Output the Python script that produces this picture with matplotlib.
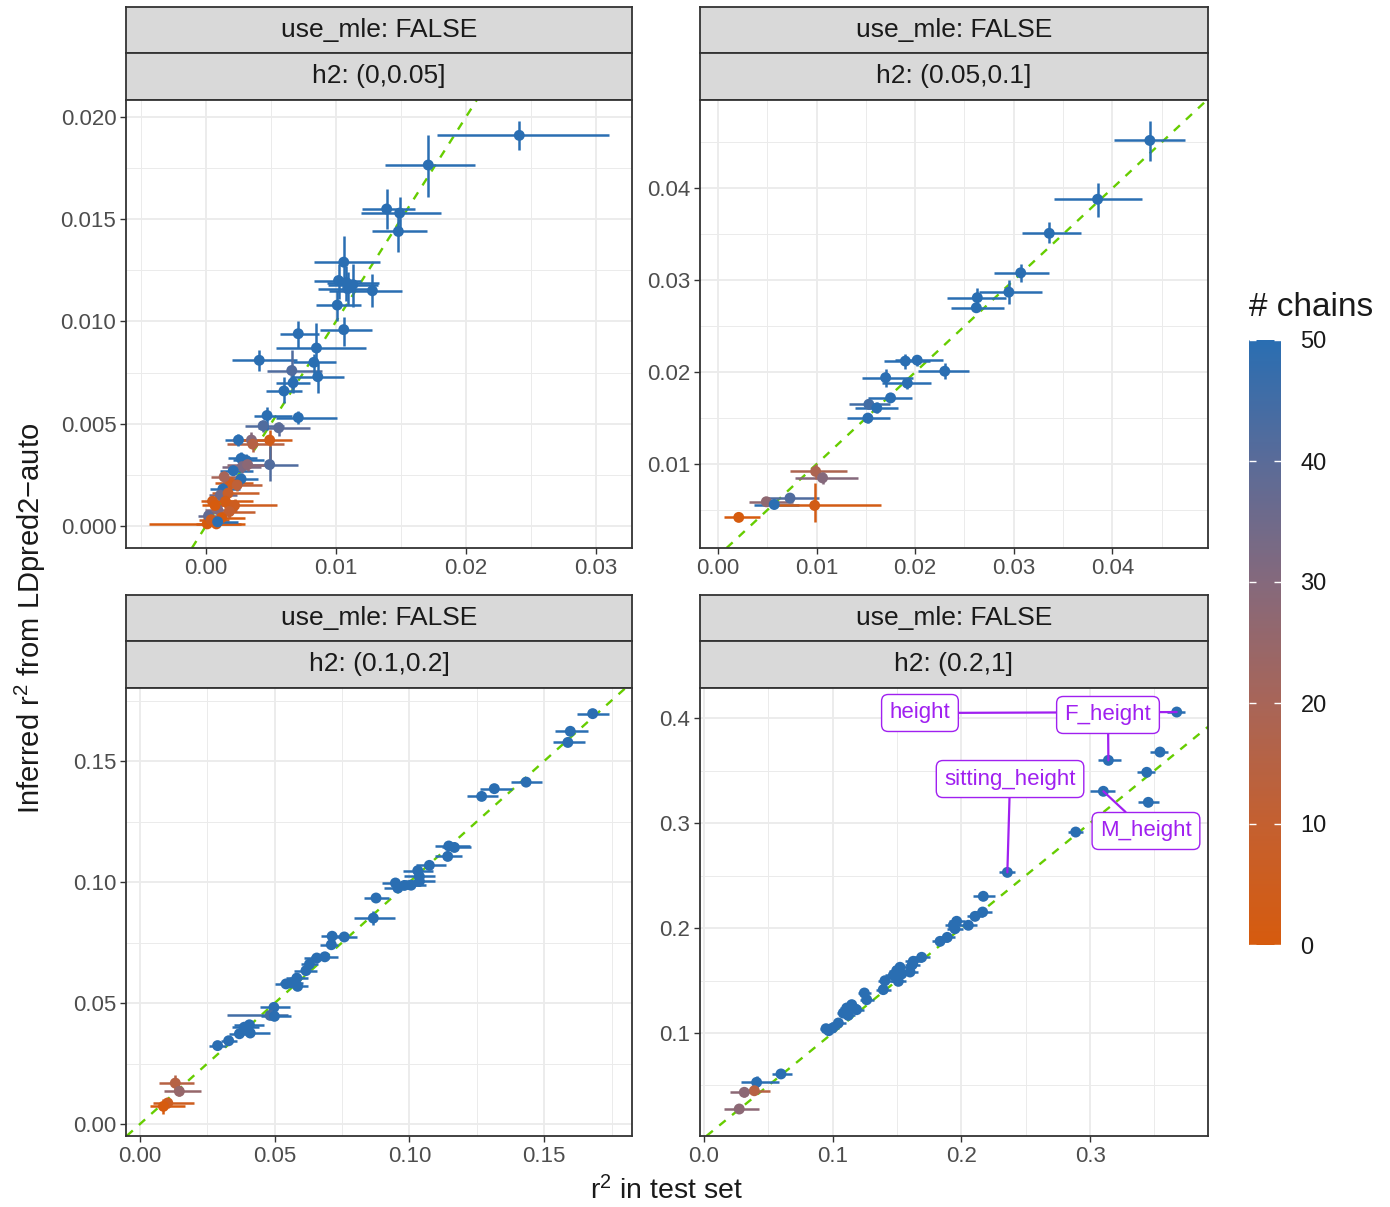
import matplotlib
matplotlib.use("Agg")
import matplotlib.pyplot as plt
import numpy as np
from matplotlib.colors import LinearSegmentedColormap, Normalize
from matplotlib.cm import ScalarMappable
from matplotlib.ticker import MultipleLocator

plt.rcParams["font.family"] = ["Liberation Sans", "DejaVu Sans"]
plt.rcParams["mathtext.fontset"] = "custom"
plt.rcParams["mathtext.rm"] = "Liberation Sans"
plt.rcParams["mathtext.it"] = "Liberation Sans:italic"

# ---- h2: (0,0.05] ----
r2_test_1 = [0.0241, 0.0171, 0.0139, 0.0149, 0.0148, 0.0106, 0.0102, 0.0108, 0.0113, 0.0109,
             0.0128, 0.0101, 0.0106, 0.0071, 0.0085, 0.0041, 0.0083, 0.0066, 0.0086, 0.0067,
             0.0060, 0.0047, 0.0071, 0.0044, 0.0056, 0.0025, 0.0035, 0.0036, 0.0049, 0.0049,
             0.0027, 0.0031, 0.0028, 0.0032, 0.0021, 0.0027, 0.0019, 0.0013, 0.0024, 0.0011,
             0.0017, 0.0005, 0.0015, 0.0022, 0.0009, 0.0018, 0.0001, 0.0008, 0.0002, 0.0004,
             0.0012, 0.0014, 0.0009, 0.0007]
r2_test_lo_1 = [0.0178, 0.0138, 0.0120, 0.0119, 0.0128, 0.0083, 0.0083, 0.0093, 0.0094, 0.0086,
                0.0095, 0.0085, 0.0088, 0.0057, 0.0054, 0.0020, 0.0067, 0.0047, 0.0065, 0.0054,
                0.0046, 0.0037, 0.0054, 0.0030, 0.0040, 0.0015, 0.0020, 0.0016, 0.0021, 0.0033,
                0.0017, 0.0021, 0.0012, 0.0016, 0.0011, 0.0016, 0.0007, 0.0003, 0.0012, 0.0002,
                0.0005, -0.0004, 0.0002, 0.0008, -0.0001, 0.0004, -0.0044, -0.0008, -0.0006, -0.0005,
                -0.0002, 0.0004, 0.0000, -0.0003]
r2_test_hi_1 = [0.0310, 0.0207, 0.0161, 0.0181, 0.0170, 0.0134, 0.0119, 0.0133, 0.0132, 0.0126,
                0.0151, 0.0119, 0.0128, 0.0087, 0.0123, 0.0070, 0.0100, 0.0089, 0.0106, 0.0080,
                0.0074, 0.0066, 0.0101, 0.0060, 0.0080, 0.0038, 0.0052, 0.0060, 0.0066, 0.0071,
                0.0039, 0.0045, 0.0042, 0.0046, 0.0036, 0.0040, 0.0036, 0.0026, 0.0043, 0.0024,
                0.0041, 0.0020, 0.0036, 0.0055, 0.0024, 0.0038, 0.0030, 0.0027, 0.0016, 0.0018,
                0.0030, 0.0028, 0.0025, 0.0022]
r2_auto_1 = [0.0191, 0.01765, 0.0155, 0.0153, 0.0144, 0.0129, 0.0120, 0.0119, 0.0118, 0.0116,
             0.0115, 0.0108, 0.0096, 0.0094, 0.0087, 0.0081, 0.0080, 0.0076, 0.0073, 0.0070,
             0.0066, 0.0054, 0.0053, 0.0049, 0.0048, 0.0042, 0.0042, 0.0040, 0.0042, 0.0030,
             0.0033, 0.0032, 0.0029, 0.0030, 0.0027, 0.0023, 0.0021, 0.0018, 0.0020, 0.0015,
             0.0016, 0.0012, 0.0012, 0.0010, 0.0008, 0.0007, 0.0001, 0.0001, 0.0005, 0.0003,
             0.0004, 0.0024, 0.0002, 0.0010]
r2_auto_lo_1 = [0.0184, 0.0161, 0.0145, 0.0143, 0.0134, 0.0117, 0.0111, 0.0110, 0.0107, 0.0108,
                0.0107, 0.0100, 0.0088, 0.0087, 0.0078, 0.0076, 0.0075, 0.0067, 0.0065, 0.0065,
                0.0060, 0.0047, 0.0050, 0.0046, 0.0044, 0.0039, 0.0039, 0.0036, 0.0029, 0.0022,
                0.0030, 0.0029, 0.0026, 0.0027, 0.0025, 0.0020, 0.0018, 0.0016, 0.0017, 0.0013,
                0.0013, 0.0010, 0.0009, 0.0007, 0.0006, 0.0004, -0.0001, -0.0001, 0.0003, 0.0001,
                0.0002, 0.0021, 0.0000, 0.0008]
r2_auto_hi_1 = [0.0198, 0.0191, 0.0165, 0.0161, 0.0153, 0.0142, 0.0128, 0.0127, 0.0128, 0.0124,
                0.0123, 0.0115, 0.0102, 0.0100, 0.0099, 0.0086, 0.0084, 0.0086, 0.0080, 0.0076,
                0.0073, 0.0058, 0.0056, 0.0052, 0.0051, 0.0045, 0.0046, 0.0043, 0.0047, 0.0039,
                0.0036, 0.0035, 0.0032, 0.0033, 0.0030, 0.0026, 0.0024, 0.0021, 0.0023, 0.0018,
                0.0019, 0.0014, 0.0015, 0.0013, 0.0011, 0.0010, 0.0003, 0.0003, 0.0007, 0.0005,
                0.0006, 0.0027, 0.0004, 0.0012]
chains_1 = [50, 50, 50, 50, 50, 50, 50, 50, 50, 50,
            50, 50, 50, 50, 50, 50, 50, 42, 50, 50,
            50, 50, 50, 42, 40, 50, 30, 15, 3, 42,
            50, 50, 32, 28, 50, 50, 5, 50, 12, 35,
            8, 3, 2, 5, 30, 10, 0, 2, 38, 5,
            0, 20, 50, 0]

# ---- h2: (0.05,0.1] ----
r2_test_2 = [0.0438, 0.0385, 0.0336, 0.0307, 0.0295, 0.0263, 0.0262, 0.0190, 0.0202, 0.0230,
             0.0170, 0.0192, 0.0175, 0.0153, 0.0161, 0.0152, 0.0099, 0.0106, 0.0073, 0.0049,
             0.0057, 0.0098, 0.0021]
r2_test_lo_2 = [0.0402, 0.0341, 0.0308, 0.0280, 0.0265, 0.0232, 0.0236, 0.0168, 0.0180, 0.0203,
                0.0146, 0.0166, 0.0152, 0.0133, 0.0139, 0.0131, 0.0073, 0.0078, 0.0051, 0.0031,
                0.0036, 0.0060, 0.0006]
r2_test_hi_2 = [0.0474, 0.0430, 0.0368, 0.0336, 0.0329, 0.0292, 0.0290, 0.0215, 0.0228, 0.0255,
                0.0198, 0.0216, 0.0197, 0.0174, 0.0183, 0.0174, 0.0131, 0.0142, 0.0102, 0.0076,
                0.0082, 0.0165, 0.0043]
r2_auto_2 = [0.0452, 0.0388, 0.0351, 0.0308, 0.0287, 0.0281, 0.0270, 0.0212, 0.0213, 0.0201,
             0.0194, 0.0188, 0.0172, 0.0165, 0.0161, 0.0150, 0.0092, 0.0085, 0.0063, 0.0059,
             0.0056, 0.0055, 0.0042]
r2_auto_lo_2 = [0.0430, 0.0369, 0.0340, 0.0298, 0.0274, 0.0270, 0.0266, 0.0203, 0.0207, 0.0192,
                0.0184, 0.0182, 0.0167, 0.0160, 0.0155, 0.0145, 0.0084, 0.0078, 0.0060, 0.0055,
                0.0052, 0.0037, 0.0038]
r2_auto_hi_2 = [0.0473, 0.0406, 0.0363, 0.0318, 0.0300, 0.0292, 0.0274, 0.0220, 0.0219, 0.0210,
                0.0203, 0.0194, 0.0177, 0.0170, 0.0167, 0.0155, 0.0100, 0.0091, 0.0067, 0.0063,
                0.0060, 0.0079, 0.0045]
chains_2 = [50, 50, 50, 50, 50, 50, 50, 50, 50, 50,
            50, 50, 50, 45, 50, 50, 18, 30, 42, 27,
            50, 2, 0]

# ---- h2: (0.1,0.2] ----
r2_test_3 = [0.1680, 0.1597, 0.1588, 0.1433, 0.1315, 0.1268, 0.1146, 0.1167, 0.1142, 0.1074,
             0.1031, 0.1037, 0.1037, 0.0948, 0.0957, 0.0981, 0.1006, 0.0876, 0.0866, 0.0713,
             0.0758, 0.0710, 0.0686, 0.0656, 0.0629, 0.0616, 0.0582, 0.0542, 0.0562, 0.0585,
             0.0497, 0.0483, 0.0499, 0.0406, 0.0387, 0.0369, 0.0409, 0.0329, 0.0288, 0.0131,
             0.0146, 0.0103, 0.0087]
r2_test_lo_3 = [0.1621, 0.1540, 0.1531, 0.1377, 0.1262, 0.1215, 0.1093, 0.1120, 0.1093, 0.1025,
                0.0975, 0.0980, 0.0985, 0.0899, 0.0905, 0.0930, 0.0955, 0.0832, 0.0795, 0.0670,
                0.0712, 0.0667, 0.0636, 0.0610, 0.0598, 0.0573, 0.0540, 0.0501, 0.0520, 0.0545,
                0.0447, 0.0322, 0.0450, 0.0350, 0.0340, 0.0332, 0.0358, 0.0300, 0.0257, 0.0072,
                0.0090, 0.0050, 0.0037]
r2_test_hi_3 = [0.1742, 0.1662, 0.1652, 0.1491, 0.1381, 0.1327, 0.1223, 0.1230, 0.1194, 0.1134,
                0.1089, 0.1095, 0.1095, 0.1025, 0.1010, 0.1040, 0.1060, 0.0925, 0.0947, 0.0762,
                0.0805, 0.0736, 0.0736, 0.0700, 0.0660, 0.0657, 0.0625, 0.0585, 0.0605, 0.0625,
                0.0556, 0.0548, 0.0560, 0.0460, 0.0440, 0.0406, 0.0484, 0.0361, 0.0320, 0.0202,
                0.0227, 0.0202, 0.0168]
r2_auto_3 = [0.1696, 0.1623, 0.1577, 0.1413, 0.1386, 0.1354, 0.1149, 0.1143, 0.1106, 0.1069,
             0.1047, 0.1023, 0.1003, 0.0996, 0.0975, 0.0986, 0.0987, 0.0934, 0.0851, 0.0776,
             0.0773, 0.0741, 0.0691, 0.0686, 0.0661, 0.0634, 0.0603, 0.0579, 0.0583, 0.0569,
             0.0482, 0.0449, 0.0445, 0.0410, 0.0400, 0.0373, 0.0376, 0.0344, 0.0324, 0.0169,
             0.0135, 0.0087, 0.0073]
r2_auto_se_3 = [0.0015] * 18 + [0.0030] + [0.0015] * 18 + [0.0010, 0.0010, 0.0035, 0.0020, 0.0020, 0.0030]
chains_3 = [50] * 31 + [45] + [50] * 7 + [15, 25, 5, 0]

# ---- h2: (0.2,1] ----
r2_test_4 = [0.3673, 0.3142, 0.3543, 0.3440, 0.3103, 0.3452, 0.2888, 0.2357, 0.2170, 0.2165,
             0.2106, 0.2054, 0.1963, 0.1937, 0.1950, 0.1890, 0.1834, 0.1691, 0.1626, 0.1618,
             0.1523, 0.1497, 0.1536, 0.1471, 0.1601, 0.1406, 0.1510, 0.1393, 0.1246, 0.1264,
             0.1148, 0.1109, 0.1186, 0.1121, 0.1082, 0.1044, 0.1000, 0.0948, 0.0969, 0.0598,
             0.0409, 0.0391, 0.0313, 0.0274]
r2_test_lo_4 = [0.3595, 0.3064, 0.3465, 0.3362, 0.2999, 0.3375, 0.2830, 0.2295, 0.2087, 0.2100,
                0.2040, 0.1990, 0.1900, 0.1875, 0.1890, 0.1830, 0.1775, 0.1630, 0.1565, 0.1560,
                0.1465, 0.1440, 0.1480, 0.1410, 0.1540, 0.1350, 0.1450, 0.1340, 0.1195, 0.1210,
                0.1095, 0.1055, 0.1130, 0.1065, 0.1030, 0.0990, 0.0950, 0.0900, 0.0920, 0.0525,
                0.0285, 0.0315, 0.0200, 0.0155]
r2_test_hi_4 = [0.3738, 0.3238, 0.3608, 0.3505, 0.3193, 0.3538, 0.2947, 0.2417, 0.2260, 0.2235,
                0.2170, 0.2120, 0.2030, 0.2000, 0.2015, 0.1950, 0.1895, 0.1755, 0.1690, 0.1680,
                0.1585, 0.1560, 0.1600, 0.1530, 0.1665, 0.1465, 0.1570, 0.1450, 0.1300, 0.1320,
                0.1200, 0.1165, 0.1240, 0.1175, 0.1135, 0.1100, 0.1050, 0.1000, 0.1020, 0.0685,
                0.0585, 0.0515, 0.0430, 0.0430]
r2_auto_4 = [0.4057, 0.3597, 0.3676, 0.3483, 0.3302, 0.3197, 0.2914, 0.2530, 0.2302, 0.2152,
             0.2111, 0.2026, 0.2064, 0.2026, 0.1993, 0.1911, 0.1873, 0.1721, 0.1683, 0.1650,
             0.1626, 0.1594, 0.1562, 0.1550, 0.1581, 0.1498, 0.1492, 0.1413, 0.1381, 0.1317,
             0.1270, 0.1238, 0.1222, 0.1168, 0.1190, 0.1095, 0.1048, 0.1041, 0.1022, 0.0610,
             0.0530, 0.0450, 0.0435, 0.0276]
r2_auto_se_4 = [0.002] * 40 + [0.006, 0.003, 0.004, 0.003]
chains_4 = [50] * 41 + [15, 28, 28]

# phenotypes named in the last panel, by row index
pheno_names = ["height", "F_height", "M_height", "sitting_height"]
pheno_rows = [0, 1, 4, 7]

strip_top = "use_mle: FALSE"
strip_h2 = ["h2: (0,0.05]", "h2: (0.05,0.1]", "h2: (0.1,0.2]", "h2: (0.2,1]"]
chain_ticks = [0, 10, 20, 30, 40, 50]

W, H = 1390, 1207
fig = plt.figure(figsize=(W / 100, H / 100), dpi=100)

def px_axes(x0, y0, x1, y1):
    return fig.add_axes([x0 / W, 1 - y1 / H, (x1 - x0) / W, (y1 - y0) / H])

cmap = LinearSegmentedColormap.from_list(
    "chains",
    [(0.0, "#D65B0E"), (0.2, "#C46030"), (0.4, "#A86558"),
     (0.6, "#85697C"), (0.8, "#5A6B98"), (1.0, "#2A6EB2")])
norm = Normalize(0, 50)

GRID = "#EBEBEB"
DARK = "#333333"
PURPLE = "#A020F0"


def strip(x0, y0, x1, y1, label):
    s = px_axes(x0, y0, x1, y1)
    s.set_facecolor("#D9D9D9")
    s.set_xticks([])
    s.set_yticks([])
    for sp in s.spines.values():
        sp.set_color(DARK)
        sp.set_linewidth(1.3)
    s.text(0.5, 0.5, label, ha="center", va="center", fontsize=19, color="#1A1A1A",
           transform=s.transAxes)


def panel(box, label, x, xlo, xhi, y, ylo, yhi, n, xlim, ylim, xmaj, ymaj):
    x0, y0, x1, y1 = box
    strip(x0, y0 - 93, x1, y0 - 47, strip_top)
    strip(x0, y0 - 47, x1, y0, label)
    ax = px_axes(x0, y0, x1, y1)
    ax.set_xlim(*xlim)
    ax.set_ylim(*ylim)
    ax.xaxis.set_major_locator(MultipleLocator(xmaj))
    ax.xaxis.set_minor_locator(MultipleLocator(xmaj / 2))
    ax.yaxis.set_major_locator(MultipleLocator(ymaj))
    ax.yaxis.set_minor_locator(MultipleLocator(ymaj / 2))
    ax.grid(True, which="major", color=GRID, lw=1.3, zorder=0)
    ax.grid(True, which="minor", color=GRID, lw=0.7, zorder=0)
    ax.set_axisbelow(True)
    ax.tick_params(which="major", length=4, width=1, color=DARK, labelsize=16,
                   labelcolor="#4D4D4D", pad=3)
    ax.tick_params(which="minor", length=0)
    for sp in ax.spines.values():
        sp.set_color(DARK)
        sp.set_linewidth(1.3)

    ax.axline((0, 0), slope=1, color="#66CD00", lw=1.7, ls=(0, (3.5, 3.5)), zorder=1)
    cols = cmap(norm(np.asarray(n)))
    ax.hlines(y, xlo, xhi, colors=cols, lw=1.8, zorder=2)
    ax.vlines(x, ylo, yhi, colors=cols, lw=1.8, zorder=2)
    ax.scatter(x, y, c=n, cmap=cmap, norm=norm, s=62, linewidths=0, zorder=3)
    return ax


fmt3 = lambda v, p: f"{v:.3f}"
ax1 = panel((126, 100, 632, 548), strip_h2[0],
            r2_test_1, r2_test_lo_1, r2_test_hi_1,
            r2_auto_1, r2_auto_lo_1, r2_auto_hi_1, chains_1,
            (-0.00615, 0.03277), (-0.00108, 0.02083), 0.01, 0.005)
ax1.xaxis.set_major_formatter(lambda v, p: f"{v:.2f}")
ax1.yaxis.set_major_formatter(fmt3)

ax2 = panel((700, 100, 1208, 548), strip_h2[1],
            r2_test_2, r2_test_lo_2, r2_test_hi_2,
            r2_auto_2, r2_auto_lo_2, r2_auto_hi_2, chains_2,
            (-0.00183, 0.0497), (0.00087, 0.0496), 0.01, 0.01)
ax2.xaxis.set_major_formatter(lambda v, p: f"{v:.2f}")
ax2.yaxis.set_major_formatter(lambda v, p: f"{v:.2f}")

y3 = np.array(r2_auto_3)
se3 = np.array(r2_auto_se_3)
ax3 = panel((126, 688, 632, 1136), strip_h2[2],
            r2_test_3, r2_test_lo_3, r2_test_hi_3,
            y3, y3 - se3, y3 + se3, chains_3,
            (-0.0052, 0.1826), (-0.00496, 0.1802), 0.05, 0.05)
ax3.xaxis.set_major_formatter(lambda v, p: f"{v:.2f}")
ax3.yaxis.set_major_formatter(lambda v, p: f"{v:.2f}")

y4 = np.array(r2_auto_4)
se4 = np.array(r2_auto_se_4)
ax4 = panel((700, 688, 1208, 1136), strip_h2[3],
            r2_test_4, r2_test_lo_4, r2_test_hi_4,
            y4, y4 - se4, y4 + se4, chains_4,
            (-0.0031, 0.3916), (0.0019, 0.4286), 0.1, 0.1)
ax4.xaxis.set_major_formatter(lambda v, p: f"{v:.1f}")
ax4.yaxis.set_major_formatter(lambda v, p: f"{v:.1f}")

# repelled label spots for the named phenotypes
label_spots = {"height": (0.1678, 0.4048), "F_height": (0.3139, 0.4029),
               "M_height": (0.3434, 0.2924), "sitting_height": (0.2378, 0.3419)}
for name, row in zip(pheno_names, pheno_rows):
    ax4.annotate(name, xy=(r2_test_4[row], r2_auto_4[row]), xytext=label_spots[name],
                 ha="center", va="center", fontsize=16, color=PURPLE, zorder=5,
                 bbox=dict(boxstyle="round,pad=0.36,rounding_size=0.3", fc="white",
                           ec=PURPLE, lw=1.0),
                 arrowprops=dict(arrowstyle="-", color=PURPLE, lw=1.6,
                                 shrinkA=0, shrinkB=0))

# axis titles
fig.text(30 / W, 1 - 618 / H, "Inferred r$^2$ from LDpred2\u2212auto", rotation=90,
         ha="center", va="center", fontsize=21, color="#1A1A1A")
fig.text(667 / W, 1 - 1191 / H, "r$^2$ in test set", ha="center", va="center",
         fontsize=20.5, color="#1A1A1A")

# colour bar for the number of chains
cax = px_axes(1249, 340, 1281, 945)
cb = fig.colorbar(ScalarMappable(norm=norm, cmap=cmap), cax=cax, ticks=chain_ticks)
cb.outline.set_visible(False)
cax.yaxis.set_ticks_position("both")
cax.tick_params(direction="in", length=5, width=1, color="white", left=True, right=True,
                labelleft=False, labelright=True, labelsize=17, labelcolor="#1A1A1A", pad=14)
fig.text(1249 / W, 1 - 307 / H, "# chains", ha="left", va="center", fontsize=24,
         color="#1A1A1A")

fig.savefig("out.png", dpi=100, facecolor="white")
